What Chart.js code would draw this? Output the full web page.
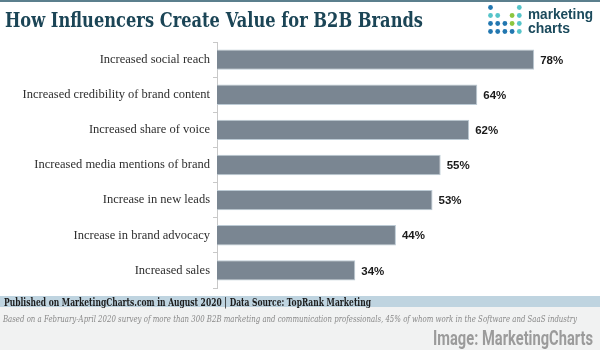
<!DOCTYPE html>
<html>
<head>
<meta charset="utf-8">
<title>How Influencers Create Value for B2B Brands</title>
<script src="https://cdn.jsdelivr.net/npm/chart.js@4.4.1/dist/chart.umd.min.js"></script>
<style>
  html, body { margin: 0; padding: 0; background: #fff; }
  #wrap { width: 600px; height: 350px; position: relative; }
</style>
</head>
<body>
<div id="wrap"><canvas id="influencerChart" width="600" height="350"></canvas></div>
<script>
const categories = [
    "Increased social reach",
    "Increased credibility of brand content",
    "Increased share of voice",
    "Increased media mentions of brand",
    "Increase in new leads",
    "Increase in brand advocacy",
    "Increased sales"
];
const shares = [78, 64, 62, 55, 53, 44, 34];

const titleText = "How Influencers Create Value for B2B Brands";
const sourceText = "Published on MarketingCharts.com in August 2020 | Data Source: TopRank Marketing";
const noteText = "Based on a February-April 2020 survey of more than 300 B2B marketing and communication professionals, 45% of whom work in the Software and SaaS industry";
const creditText = "Image: MarketingCharts";

// logo dot grid, one string per row, b = blue, t = teal, g = green
const logoRows = ["b...t", "tt.gt", "bbbgt", "bbbbt"];
const logoColors = { b: "#2277b0", t: "#55c4c9", g: "#8cc63f" };

document.addEventListener("DOMContentLoaded", function () {
    const canvas = document.getElementById("influencerChart");

    // header, logo and footer around the plot
    const framePlugin = {
        id: "frame",
        beforeDraw(chart) {
            const ctx = chart.ctx;
            ctx.save();
            ctx.fillStyle = "#ffffff";
            ctx.fillRect(0, 0, 600, 350);
            ctx.fillStyle = "#5b7f8d";
            ctx.fillRect(0, 0, 600, 2);
            ctx.fillStyle = "#bfd4e0";
            ctx.fillRect(0, 296, 600, 11);
            ctx.fillStyle = "#f1f2f2";
            ctx.fillRect(0, 307, 600, 43);
            ctx.restore();
        },
        afterDraw(chart) {
            const ctx = chart.ctx;
            ctx.save();
            ctx.textBaseline = "alphabetic";
            ctx.textAlign = "left";

            ctx.fillStyle = "#1b4556";
            ctx.font = "bold 19.5px 'DejaVu Serif'";
            ctx.fillText(titleText, 5, 27, 418);

            logoRows.forEach((row, r) => {
                row.split("").forEach((c, col) => {
                    if (c === ".") return;
                    ctx.fillStyle = logoColors[c];
                    ctx.beginPath();
                    ctx.arc(490.5 + col * 7.2, 7.5 + r * 8, 2.4, 0, Math.PI * 2);
                    ctx.fill();
                });
            });
            ctx.fillStyle = "#1b4a5c";
            ctx.font = "bold 14px 'Liberation Sans'";
            ctx.fillText("marketing", 528, 19, 65);
            ctx.fillText("charts", 528, 33);

            ctx.fillStyle = "#1c1c1c";
            ctx.font = "bold 10.5px 'DejaVu Serif'";
            ctx.fillText(sourceText, 4, 305.5, 367);

            ctx.fillStyle = "#888888";
            ctx.font = "italic 9.5px 'DejaVu Serif'";
            ctx.fillText(noteText, 3, 322, 574);

            ctx.fillStyle = "#9b9b9b";
            ctx.font = "bold 20px 'Roboto'";
            ctx.textAlign = "right";
            ctx.fillText(creditText, 593, 345, 160);
            ctx.restore();
        }
    };

    // percentage labels at the end of each bar
    const valueLabels = {
        id: "valueLabels",
        afterDatasetsDraw(chart) {
            const ctx = chart.ctx;
            const meta = chart.getDatasetMeta(0);
            ctx.save();
            ctx.fillStyle = "#1a1a1a";
            ctx.font = "bold 11.5px 'Liberation Sans'";
            ctx.textAlign = "left";
            ctx.textBaseline = "middle";
            meta.data.forEach((bar, i) => {
                ctx.fillText(shares[i] + "%", bar.x + 6, bar.y + 1);
            });
            ctx.restore();
        }
    };

    new Chart(canvas, {
        type: "bar",
        data: {
            labels: categories,
            datasets: [{
                data: shares,
                backgroundColor: "#7a8692",
                borderColor: "#bccad4",
                borderWidth: 1,
                categoryPercentage: 1,
                barPercentage: 0.58
            }]
        },
        options: {
            indexAxis: "y",
            responsive: false,
            animation: false,
            events: [],
            layout: { padding: { top: 42, bottom: 62, left: 0, right: 17 } },
            plugins: {
                legend: { display: false },
                tooltip: { enabled: false }
            },
            scales: {
                x: { display: false, min: 0, max: 90 },
                y: {
                    afterFit(axis) { axis.width = 217; },
                    border: { color: "#c8c8c8", dash: [2, 2] },
                    grid: { drawOnChartArea: false, tickLength: 4, color: "#c8c8c8" },
                    ticks: {
                        color: "#2e2e2e",
                        padding: 3,
                        font: { family: "'Liberation Serif'", size: 12.5 }
                    }
                }
            }
        },
        plugins: [framePlugin, valueLabels]
    });
});
</script>
</body>
</html>
